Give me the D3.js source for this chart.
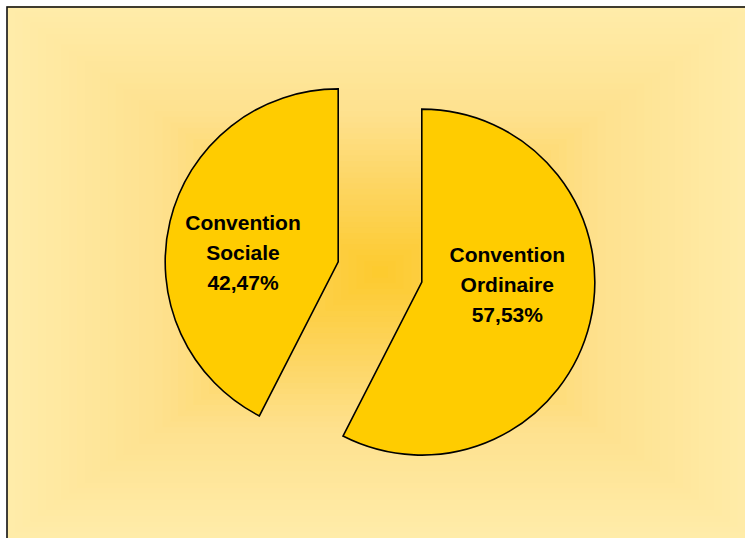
<!DOCTYPE html>
<html>
<head>
<meta charset="utf-8">
<script src="https://cdn.jsdelivr.net/npm/d3@7"></script>
<style>
  html, body { margin: 0; padding: 0; background: #ffffff; }
  svg { display: block; }
</style>
</head>
<body>
<svg id="chart" width="745" height="538"></svg>
<script>
// Répartition des conventions
const categories = ["Convention Ordinaire", "Convention Sociale"];
const shares = [57.53, 42.47];
const labelLines = [
  ["Convention", "Ordinaire", "57,53%"],
  ["Convention", "Sociale", "42,47%"]
];

// Layout
const W = 745, H = 538;
const frame = { x: 7, y: 7 };
const center = { x: 380, y: 272 };
const radius = 173;
const explode = 43;
const labelRadius = 90;
const labelNudge = [[-2, -11.6], [-7.7, 19.3]];
const lineGap = 30;

const svg = d3.select("#chart");

// Background: rectangular "from centre" gradient built from nested bands
const bgColor = d3.scaleLinear()
  .domain([0, 0.3, 0.6, 1])
  .range(["#fdca2c", "#fdd45c", "#fee18e", "#ffeca9"])
  .interpolate(d3.interpolateRgb);
const hw = W - center.x, hh = H - frame.y - (center.y - frame.y) + 0; // half extents
const halfW = Math.max(center.x - frame.x, W - center.x);
const halfH = Math.max(center.y - frame.y, H - center.y);
const bg = svg.append("g");
bg.append("rect")
  .attr("x", frame.x).attr("y", frame.y)
  .attr("width", W - frame.x).attr("height", H - frame.y)
  .attr("fill", bgColor(1));
const steps = 48;
const bands = d3.range(steps, 0, -1).map(i => i / steps);
bg.selectAll("rect.band")
  .data(bands)
  .join("rect")
  .attr("class", "band")
  .attr("x", t => center.x - t * halfW)
  .attr("y", t => center.y - t * halfH)
  .attr("width", t => 2 * t * halfW)
  .attr("height", t => 2 * t * halfH)
  .attr("fill", t => bgColor(t));

// Chart frame (left and top edges visible)
svg.append("rect")
  .attr("x", frame.x).attr("y", frame.y)
  .attr("width", W + 10).attr("height", H + 10)
  .attr("fill", "none")
  .attr("stroke", "#111")
  .attr("stroke-width", 1.6);

// Pie
const pie = d3.pie().sort(null).value(d => d);
const arcs = pie(shares);
const arc = d3.arc().innerRadius(0).outerRadius(radius);
const labelArc = d3.arc().innerRadius(labelRadius).outerRadius(labelRadius);

function offset(d) {
  const mid = (d.startAngle + d.endAngle) / 2;
  return [Math.sin(mid) * explode, -Math.cos(mid) * explode];
}

const slices = svg.append("g")
  .attr("transform", `translate(${center.x},${center.y})`)
  .selectAll("g.slice")
  .data(arcs)
  .join("g")
  .attr("class", "slice")
  .attr("transform", d => { const o = offset(d); return `translate(${o[0]},${o[1]})`; });

slices.append("path")
  .attr("d", arc)
  .attr("fill", "#ffcc00")
  .attr("stroke", "#000")
  .attr("stroke-width", 1.6)
  .attr("stroke-linejoin", "miter");

slices.append("text")
  .attr("transform", (d, i) => {
    const c = labelArc.centroid(d);
    return `translate(${c[0] + labelNudge[i][0]},${c[1] + labelNudge[i][1]})`;
  })
  .attr("text-anchor", "middle")
  .attr("font-family", "'Liberation Sans', Arial, sans-serif")
  .attr("font-weight", "bold")
  .attr("font-size", 21)
  .attr("fill", "#000")
  .selectAll("tspan")
  .data((d, i) => labelLines[i].map((s, k) => ({ s, k })))
  .join("tspan")
  .attr("x", 0)
  .attr("y", d => (d.k - 1) * lineGap)
  .text(d => d.s);
</script>
</body>
</html>
